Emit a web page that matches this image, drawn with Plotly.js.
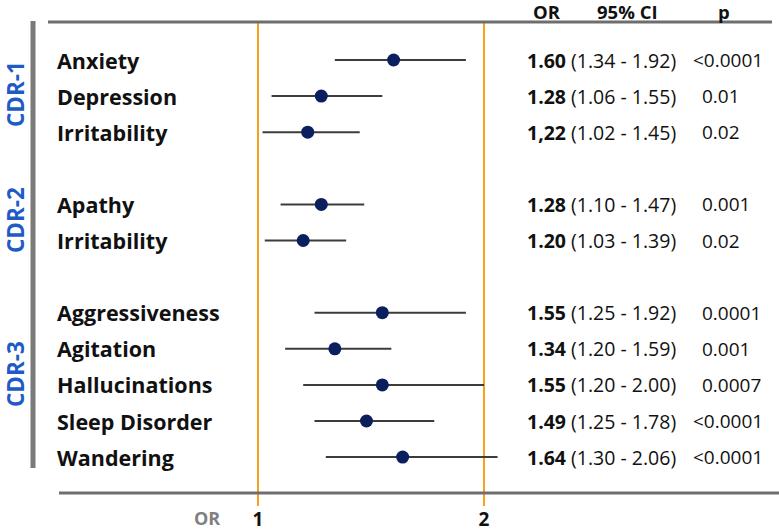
<!DOCTYPE html>
<html>
<head>
<meta charset="utf-8">
<script src="https://cdn.plot.ly/plotly-3.0.1.min.js"></script>
<style>
  html, body { margin: 0; padding: 0; background: #fff; }
  #chart { width: 779px; height: 531px; }
</style>
</head>
<body>
<div id="chart"></div>
<script>
// forest plot data
var labels = ['Anxiety', 'Depression', 'Irritability', 'Apathy', 'Irritability',
  'Aggressiveness', 'Agitation', 'Hallucinations', 'Sleep Disorder', 'Wandering'];
var rows = [0, 1, 2, 4, 5, 7, 8, 9, 10, 11];
var orVals = [1.60, 1.28, 1.22, 1.28, 1.20, 1.55, 1.34, 1.55, 1.48, 1.64];
var ciLow = [1.34, 1.06, 1.02, 1.10, 1.03, 1.25, 1.12, 1.20, 1.25, 1.30];
var ciHigh = [1.92, 1.55, 1.45, 1.47, 1.39, 1.92, 1.59, 2.00, 1.78, 2.06];
// printed columns (as written in the figure)
var orText = ['1.60', '1.28', '1,22', '1.28', '1.20', '1.55', '1.34', '1.55', '1.49', '1.64'];
var ciText = ['1.34 - 1.92', '1.06 - 1.55', '1.02 - 1.45', '1.10 - 1.47', '1.03 - 1.39',
  '1.25 - 1.92', '1.20 - 1.59', '1.20 - 2.00', '1.25 - 1.78', '1.30 - 2.06'];
var pText = ['<0.0001', '0.01', '0.02', '0.001', '0.02', '0.0001', '0.001', '0.0007', '<0.0001', '<0.0001'];

var groups = ['CDR-1', 'CDR-2', 'CDR-3'];
var groupCenter = [94, 220, 374];   // pixel rows of the rotated labels

var W = 779, PH = 506;
function px(x) { return x / W; }
function py(y) { return (PH - y) / PH; }

var FONT = '"Open Sans", "Noto Sans", sans-serif';

var trace = {
  x: orVals,
  y: rows,
  type: 'scatter',
  mode: 'markers',
  marker: { size: 13, color: '#0b1f5e' },
  error_x: {
    type: 'data', symmetric: false,
    array: orVals.map(function (v, i) { return ciHigh[i] - v; }),
    arrayminus: orVals.map(function (v, i) { return v - ciLow[i]; }),
    color: '#3c3c3c', thickness: 2, width: 0
  },
  hoverinfo: 'skip'
};

var ann = [];
labels.forEach(function (name, i) {
  ann.push({ xref: 'paper', yref: 'y', x: px(55), y: rows[i], xanchor: 'left', yanchor: 'middle',
    text: '<b>' + name + '</b>', showarrow: false, font: { family: FONT, size: 21.5, color: '#111' } });
  ann.push({ xref: 'paper', yref: 'y', x: px(525), y: rows[i], xanchor: 'left', yanchor: 'middle',
    text: '<b>' + orText[i] + '</b> (' + ciText[i] + ')',
    showarrow: false, font: { family: FONT, size: 19.5, color: '#111' } });
  var lt = pText[i].charAt(0) === '<';
  ann.push({ xref: 'paper', yref: 'y', x: px(lt ? 691 : 700), y: rows[i], xanchor: 'left', yanchor: 'middle',
    text: lt ? '&lt;' + pText[i].slice(1) : pText[i],
    showarrow: false, font: { family: FONT, size: 19, color: '#111' } });
});

groups.forEach(function (g, i) {
  ann.push({ xref: 'paper', yref: 'paper', x: px(15), y: py(groupCenter[i]), xanchor: 'center', yanchor: 'middle',
    text: '<b>' + g + '</b>', textangle: -90, showarrow: false, borderpad: 0,
    font: { family: FONT, size: 22.5, color: '#1f5bc6' } });
});

// column headers
[['OR', 547], ['95% CI', 627], ['p', 724]].forEach(function (h) {
  ann.push({ xref: 'paper', yref: 'paper', x: px(h[1]), y: py(12), xanchor: 'center', yanchor: 'middle',
    text: '<b>' + h[0] + '</b>', showarrow: false, borderpad: 0,
    font: { family: FONT, size: 18.5, color: '#111' } });
});
ann.push({ xref: 'paper', yref: 'paper', x: px(207), y: py(518), xanchor: 'center', yanchor: 'middle',
  text: '<b>OR</b>', showarrow: false, borderpad: 0, font: { family: FONT, size: 18, color: '#808080' } });

var shapes = [
  { type: 'line', xref: 'paper', yref: 'paper', x0: px(48), x1: px(772), y0: py(22), y1: py(22),
    line: { color: '#6e6e6e', width: 3 } },
  { type: 'line', xref: 'paper', yref: 'paper', x0: px(59), x1: 1, y0: py(493), y1: py(493),
    line: { color: '#6e6e6e', width: 3 } },
  { type: 'line', xref: 'paper', yref: 'paper', x0: px(33), x1: px(33), y0: py(21), y1: py(468),
    line: { color: '#7a7a7a', width: 5 } },
  { type: 'line', xref: 'x', yref: 'paper', x0: 1, x1: 1, y0: py(22), y1: 0,
    line: { color: '#f7a11c', width: 2 }, layer: 'below' },
  { type: 'line', xref: 'x', yref: 'paper', x0: 2, x1: 2, y0: py(22), y1: 0,
    line: { color: '#f7a11c', width: 2 }, layer: 'below' }
];

var layout = {
  width: 779, height: 531,
  margin: { l: 0, r: 0, t: 0, b: 25, pad: 0 },
  paper_bgcolor: '#fff', plot_bgcolor: '#fff',
  showlegend: false,
  xaxis: {
    range: [1 - 258 / 226, 1 + (779 - 258) / 226],
    tickvals: [1, 2], ticktext: ['<b>1</b>', '<b>2</b>'],
    showgrid: false, zeroline: false, showline: false, ticks: '',
    tickfont: { family: FONT, size: 19, color: '#111' }, fixedrange: true
  },
  yaxis: {
    range: [(PH - 60) / 36.1, -60 / 36.1],
    visible: false, fixedrange: true
  },
  shapes: shapes,
  annotations: ann
};

Plotly.newPlot('chart', [trace], layout, { displayModeBar: false, staticPlot: true });
</script>
</body>
</html>
